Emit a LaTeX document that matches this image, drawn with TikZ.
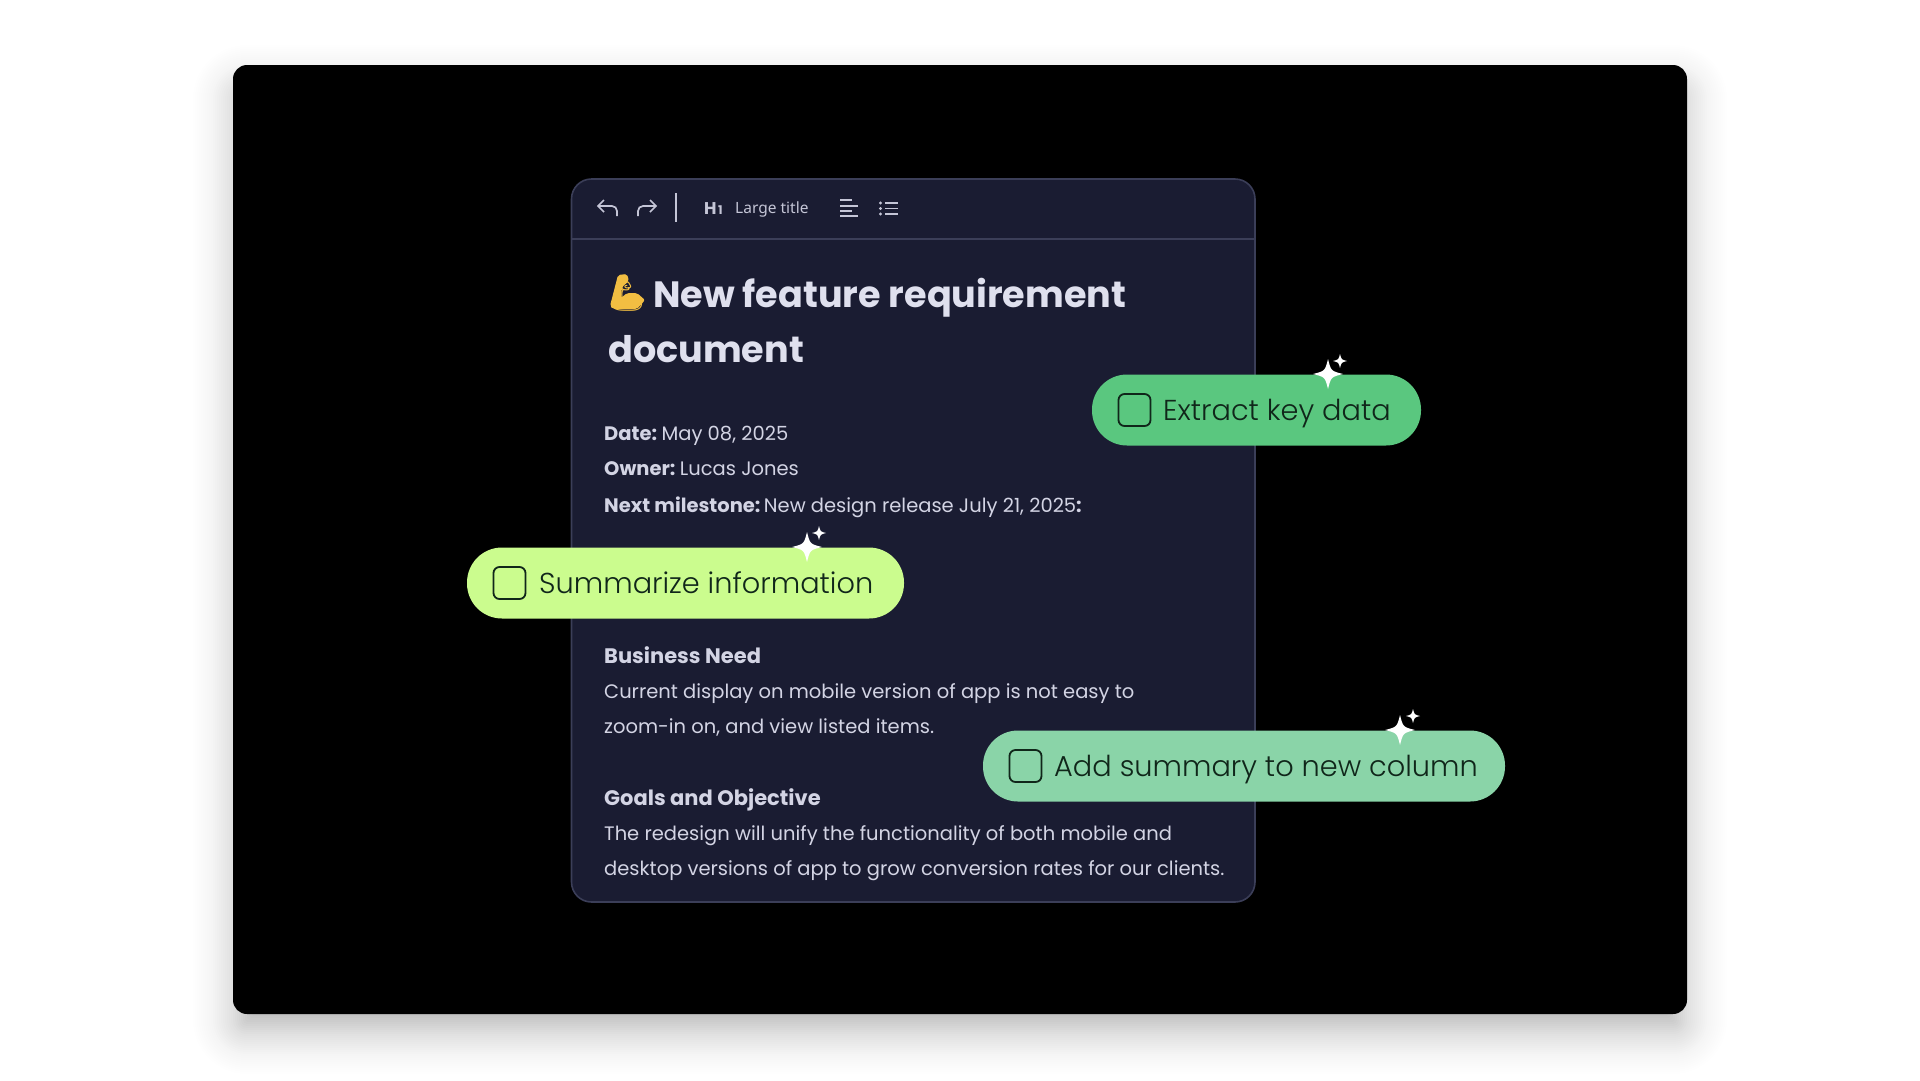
\documentclass[tikz,border=0pt]{standalone}
\usepackage{fontspec}
\setmainfont{Poppins}
\newfontfamily\barfont{Noto Sans}
\newfontfamily\chipfont{Poppins Light}
\newfontfamily\emojifont{Noto Emoji}
\definecolor{panelbg}{HTML}{1A1C32}
\definecolor{panelline}{HTML}{3B3E58}
\definecolor{titletxt}{HTML}{DFE0EE}
\definecolor{bodytxt}{HTML}{D3D4E4}
\definecolor{iconink}{HTML}{C4C5D6}
\definecolor{chipink}{HTML}{10261A}
\definecolor{chipa}{HTML}{5AC77F}
\definecolor{chipb}{HTML}{CBFC8E}
\definecolor{chipc}{HTML}{8AD4A8}
\definecolor{armcolor}{HTML}{F2BE42}
\tikzset{
	x=1pt, y=-1pt,
	txt/.style={anchor=base west, inner sep=0pt, text=bodytxt, font=\fontsize{19.5}{24}\selectfont},
	sect/.style={txt, font=\fontsize{21}{24}\selectfont\bfseries},
	head/.style={anchor=base west, inner sep=0pt, text=titletxt, font=\fontsize{36.6}{40}\selectfont\bfseries},
	bar/.style={anchor=base west, inner sep=0pt, text=iconink, font=\barfont\fontsize{15.5}{18}\selectfont},
	tool/.style={draw=iconink, line width=1.7pt},
	chip/.style={inner sep=0pt, minimum height=71pt, rounded corners=35pt},
	tick/.style={draw=chipink, line width=1.8pt, inner sep=0pt, minimum size=32pt, rounded corners=6pt},
	chiptxt/.style={anchor=base west, inner sep=0pt, text=chipink, font=\chipfont\fontsize{28.8}{38}\selectfont},
}
\newcommand{\sparkle}[3]{
	\fill[white, shift={(#1, #2)}, scale=#3](0, -1).. controls (.2, -.2) ..(1, 0).. controls (.2, .2) ..(0, 1).. controls (-.2, .2) ..(-1, 0).. controls (-.2, -.2) ..(0, -1)
}
\begin{document}
\begin{tikzpicture}
    \useasboundingbox (0, 0) rectangle (1920, 1080);
    \fill[white] (0, 0) rectangle (1920, 1080);
    % card with its soft shadow
    \foreach \e in {-20, -18, ..., 40}{
        \pgfmathsetmacro{\rad}{max(3, 14+\e)}
        \pgfmathsetmacro{\op}{.002+.012*(40-\e)/60}
        \fill[black, opacity=\op, rounded corners=\rad pt] (233-\e, 85-\e) rectangle (1687+\e, 1034+\e);
    }
    \fill[black, rounded corners=14pt] (233, 65) rectangle (1687, 1014);
    % panel
    \draw[panelline, fill=panelbg, line width=1.6pt, rounded corners=20pt] (571.5, 179) rectangle (1255, 902);
    \draw[panelline, line width=1.2pt] (571.5, 239) -- (1255, 239);
    % toolbar
    \draw[tool, rounded corners=5pt] (598, 206) -- (617, 206) -- (617, 216);
    \draw[tool] (604, 200) -- (598, 206) -- (604, 212);
    \draw[tool, rounded corners=5pt] (656, 206) -- (638, 206) -- (638, 216);
    \draw[tool] (650, 200) -- (656, 206) -- (650, 212);
    \draw[tool] (676, 193) -- (676, 222);
    \node[bar, font=\fontsize{17}{18}\selectfont\bfseries] (hone) at (704, 214.5) {H\hspace{1.5pt}{\fontsize{12}{12}\selectfont 1}};
    \node[bar] (bartitle) at (735, 213) {Large title};
    \foreach \y/\w in {200/12, 206/18, 211/12, 216/18}{
        \draw[tool, line width=2pt] (840, \y) -- (840+\w, \y);
    }
    \foreach \y in {203, 208.5, 214}{
        \fill[iconink] (880.5, \y) circle (1.6);
        \draw[tool] (885, \y) -- (898, \y);
    }
    % document text
    \fill[armcolor, rounded corners=2pt] (618, 275) -- (627, 274) -- (629, 281) -- (622, 287) -- (621, 298) -- (627, 293) -- (637, 293) -- (645, 300) -- (637, 309) -- (613, 309) -- (610, 306) -- cycle;
    \node[head, text=armcolor, font=\emojifont\fontsize{29}{40}\selectfont] (arm) at (609, 306) {💪};
    \node[head] (titleone) at (653, 307) {New feature requirement};
    \node[head] (titletwo) at (608, 362) {document};
    \node[txt] (date) at (604, 440) {\textbf{Date:}\hspace{4.5pt}May 08, 2025};
    \node[txt] (owner) at (604, 475) {\textbf{Owner:}\hspace{4.5pt}Lucas Jones};
    \node[txt] (next) at (604, 512) {\textbf{Next milestone:}\hspace{3.5pt}New design release July 21, 2025\textbf{:}};
    \node[sect] (need) at (604, 663) {Business Need};
    \node[txt] (needone) at (604, 698) {Current display on mobile version of app is not easy to};
    \node[txt] (needtwo) at (604, 733) {zoom-in on, and view listed items.};
    \node[sect] (goals) at (604, 805) {Goals and Objective};
    \node[txt] (goalsone) at (604, 840) {The redesign will unify the functionality of both mobile and};
    \node[txt] (goalstwo) at (604, 875) {desktop versions of app to grow conversion rates for our clients.};
    % chips
    \node[chip, fill=chipa, minimum width=329pt] (keydata) at (1256.5, 410) {};
    \node[tick] (keytick) at (1134.5, 410) {};
    \node[chiptxt] (keytxt) at (1163, 420.5) {Extract key data};
    \sparkle{1328}{374}{15};
    \sparkle{1340}{361}{7};
    \node[chip, fill=chipb, minimum width=437pt] (summary) at (685.5, 583) {};
    \node[tick] (sumtick) at (509.5, 583) {};
    \node[chiptxt] (sumtxt) at (539, 593.5) {Summarize information};
    \sparkle{807}{547}{15};
    \sparkle{819}{533}{7};
    \node[chip, fill=chipc, minimum width=522pt] (column) at (1244, 766) {};
    \node[tick] (coltick) at (1025.5, 766) {};
    \node[chiptxt] (coltxt) at (1054, 776.5) {Add summary to new column};
    \sparkle{1400}{730}{15};
    \sparkle{1413}{716}{7};
\end{tikzpicture}
\end{document}
